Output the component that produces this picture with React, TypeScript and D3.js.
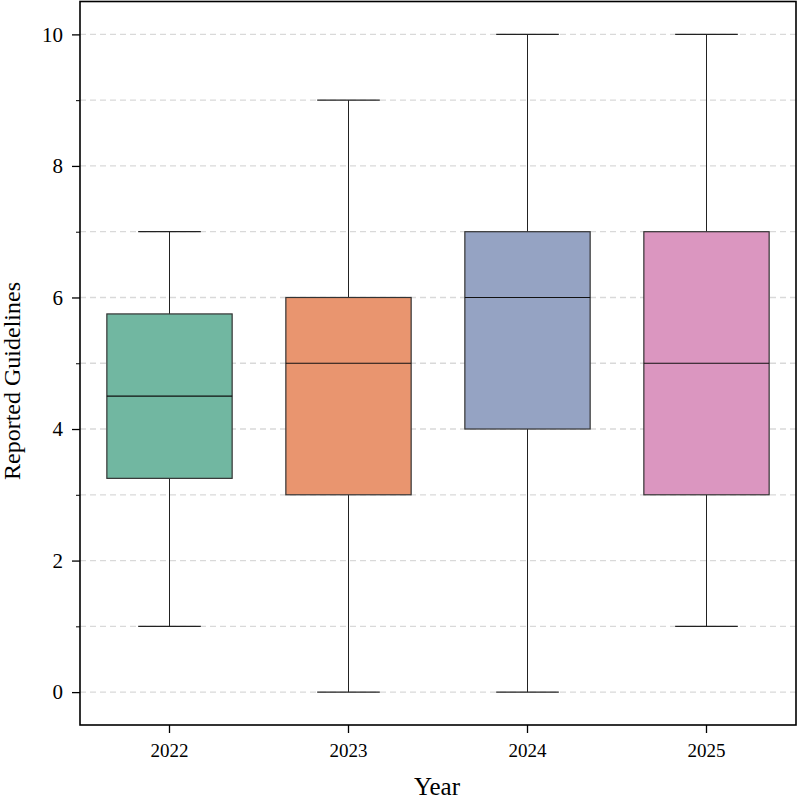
import { useEffect, useRef } from "react";
import * as d3 from "d3";

const years = ["2022", "2023", "2024", "2025"];
const whiskerLow = [1, 0, 0, 1];
const q1 = [3.25, 3, 4, 3];
const medians = [4.5, 5, 6, 5];
const q3 = [5.75, 6, 7, 7];
const whiskerHigh = [7, 9, 10, 10];
const colors = ["#71b7a1", "#e9956f", "#95a3c3", "#db96c0"];
const majorTicks = [0, 2, 4, 6, 8, 10];
const minorTicks = [1, 3, 5, 7, 9];

export default function App() {
  const ref = useRef<SVGSVGElement>(null);

  useEffect(() => {
    const el = ref.current;
    if (!el) return;
    const W = 797, H = 804, M = { top: 1.5, right: 1, bottom: 79, left: 80 };
    const svg = d3.select(el).attr("width", W).attr("height", H);
    svg.selectAll("*").remove();
    const font = "'Liberation Serif', 'DejaVu Serif', serif";

    const x = d3.scaleBand<string>().domain(years).range([M.left, W - M.right]);
    const y = d3.scaleLinear().domain([-0.5, 10.5]).range([H - M.bottom, M.top]);
    const bw = x.bandwidth();
    const data = years.map((k, i) => ({
      k, lo: whiskerLow[i], q1: q1[i], med: medians[i], q3: q3[i], hi: whiskerHigh[i], c: colors[i],
    }));

    // grid
    svg.append("g").selectAll("line").data(d3.range(0, 11)).join("line")
      .attr("x1", M.left).attr("x2", W - M.right).attr("y1", (d) => y(d)).attr("y2", (d) => y(d))
      .attr("stroke", "#d9d9d9").attr("stroke-width", 1.3).attr("stroke-dasharray", "6,4");

    const g = svg.append("g");
    const cx = (d: { k: string }) => (x(d.k) ?? 0) + bw / 2;
    // whiskers
    g.selectAll("line.wl").data(data).join("line")
      .attr("x1", cx).attr("x2", cx).attr("y1", (d) => y(d.q1)).attr("y2", (d) => y(d.lo))
      .attr("stroke", "#222").attr("stroke-width", 1);
    g.selectAll("line.wh").data(data).join("line")
      .attr("x1", cx).attr("x2", cx).attr("y1", (d) => y(d.q3)).attr("y2", (d) => y(d.hi))
      .attr("stroke", "#222").attr("stroke-width", 1);
    // caps
    for (const key of ["lo", "hi"] as const) {
      g.append("g").selectAll("line").data(data).join("line")
        .attr("x1", (d) => cx(d) - bw * 0.175).attr("x2", (d) => cx(d) + bw * 0.175)
        .attr("y1", (d) => y(d[key])).attr("y2", (d) => y(d[key]))
        .attr("stroke", "#222").attr("stroke-width", 1.2);
    }
    // boxes
    g.append("g").selectAll("rect").data(data).join("rect")
      .attr("x", (d) => cx(d) - bw * 0.35).attr("width", bw * 0.7)
      .attr("y", (d) => y(d.q3)).attr("height", (d) => y(d.q1) - y(d.q3))
      .attr("fill", (d) => d.c).attr("stroke", "#333").attr("stroke-width", 1.2);
    g.append("g").selectAll("line").data(data).join("line")
      .attr("x1", (d) => cx(d) - bw * 0.35).attr("x2", (d) => cx(d) + bw * 0.35)
      .attr("y1", (d) => y(d.med)).attr("y2", (d) => y(d.med))
      .attr("stroke", "#111").attr("stroke-width", 1.2);

    // frame
    svg.append("rect").attr("x", M.left).attr("y", M.top)
      .attr("width", W - M.right - M.left).attr("height", H - M.bottom - M.top)
      .attr("fill", "none").attr("stroke", "#000").attr("stroke-width", 1.6);

    // y axis
    const ya = svg.append("g").attr("transform", `translate(${M.left},0)`)
      .call(d3.axisLeft(y).tickValues(majorTicks).tickSize(8).tickPadding(9).tickFormat(d3.format("d")));
    ya.select(".domain").remove();
    ya.selectAll("line").attr("stroke", "#000").attr("stroke-width", 1.3);
    ya.selectAll("text").attr("font-family", font).attr("font-size", 21).attr("fill", "#000");
    const ym = svg.append("g").attr("transform", `translate(${M.left},0)`)
      .call(d3.axisLeft(y).tickValues(minorTicks).tickSize(4).tickFormat(() => ""));
    ym.select(".domain").remove();
    ym.selectAll("line").attr("stroke", "#000").attr("stroke-width", 1);

    // x axis
    const xa = svg.append("g").attr("transform", `translate(0,${H - M.bottom})`)
      .call(d3.axisBottom(x).tickSize(8).tickPadding(11));
    xa.select(".domain").remove();
    xa.selectAll("line").attr("stroke", "#000").attr("stroke-width", 1.3);
    xa.selectAll("text").attr("font-family", font).attr("font-size", 19).attr("fill", "#000");

    svg.append("text").attr("x", 437).attr("y", 795)
      .attr("text-anchor", "middle").attr("font-family", font).attr("font-size", 25).text("Year");
    svg.append("text").attr("transform", `translate(20,381) rotate(-90)`)
      .attr("text-anchor", "middle").attr("font-family", font).attr("font-size", 24).text("Reported Guidelines");
  }, []);

  return (
    <div style={{ position: "absolute", left: 0, top: 0 }}>
      <svg ref={ref} role="img" aria-label="Reported guidelines by year" />
    </div>
  );
}
